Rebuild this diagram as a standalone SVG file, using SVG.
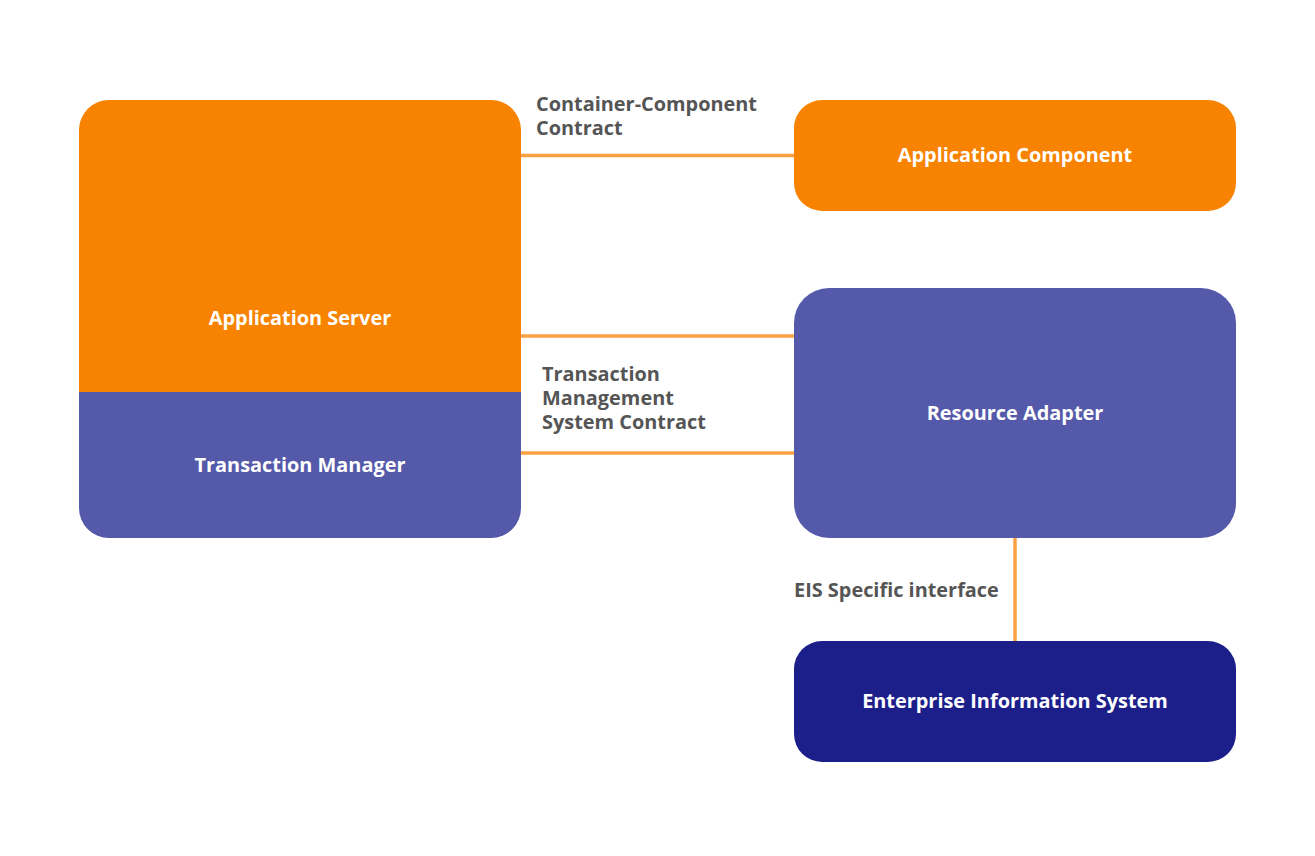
<svg xmlns="http://www.w3.org/2000/svg" width="1315" height="856" viewBox="0 0 1315 856">
<style>
.t{font-family:"Open Sans","Liberation Sans",sans-serif;font-weight:700;font-size:19.9px;fill:#ffffff;text-anchor:middle;dominant-baseline:central}
.l{font-family:"Open Sans","Liberation Sans",sans-serif;font-weight:700;font-size:19.9px;fill:#555555}
.c{stroke:#FAA041;stroke-width:3.5;fill:none}
</style>
<rect width="1315" height="856" fill="#ffffff"/>
<g id="connectors">
<line class="c" x1="521" y1="155.5" x2="794" y2="155.5"/>
<line class="c" x1="521" y1="336" x2="794" y2="336"/>
<line class="c" x1="521" y1="453" x2="794" y2="453"/>
<line class="c" x1="1015" y1="538" x2="1015" y2="643"/>
<text class="l" x="536" y="111">Container-Component</text>
<text class="l" x="536" y="135">Contract</text>
<text class="l" x="542" y="381">Transaction</text>
<text class="l" x="542" y="405">Management</text>
<text class="l" x="542" y="429">System Contract</text>
<text class="l" x="794" y="597">EIS Specific interface</text>
</g>
<g id="application-server">
<path d="M79,392 V130 A30,30 0 0 1 109,100 H491 A30,30 0 0 1 521,130 V392 Z" fill="#F88300"/>
<text class="t" x="300" y="317">Application Server</text>
</g>
<g id="transaction-manager">
<path d="M79,392 H521 V508 A30,30 0 0 1 491,538 H109 A30,30 0 0 1 79,508 Z" fill="#5559A9"/>
<text class="t" x="300" y="464">Transaction Manager</text>
</g>
<g id="application-component">
<rect x="794" y="100" width="442" height="111" rx="28" fill="#F88300"/>
<text class="t" x="1015" y="154">Application Component</text>
</g>
<g id="resource-adapter">
<rect x="794" y="288" width="442" height="250" rx="35" fill="#5559A9"/>
<text class="t" x="1015" y="412">Resource Adapter</text>
</g>
<g id="eis">
<rect x="794" y="641" width="442" height="121" rx="28" fill="#1C1F8A"/>
<text class="t" x="1015" y="700">Enterprise Information System</text>
</g>
</svg>
